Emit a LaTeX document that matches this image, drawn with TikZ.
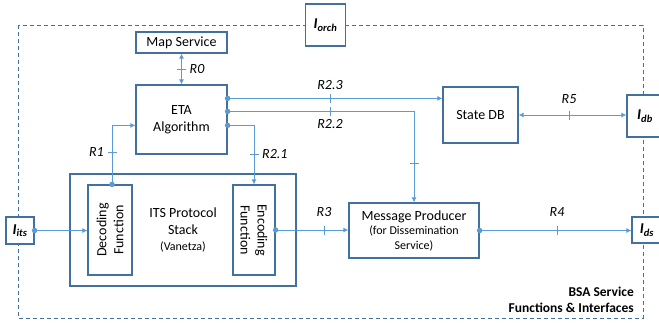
\documentclass[tikz,border=0pt]{standalone}
\usepackage{fontspec}
\setmainfont{Carlito}
\usetikzlibrary{arrows.meta,calc}
\definecolor{boxblue}{HTML}{41719C}
\definecolor{linkblue}{HTML}{5B9BD5}
\newcommand{\smalltext}{\fontsize{12}{14}\selectfont}
\begin{document}
\begin{tikzpicture}[x=1pt,y=-1pt,
  box/.style={draw=boxblue,line width=1.2pt,fill=white,inner sep=0pt,align=center,
              font=\fontsize{14}{17}\selectfont},
  iface/.style={box,font=\fontsize{15}{17}\selectfont\bfseries\itshape},
  conn/.style={draw=linkblue,line width=0.9pt},
  arr/.style={conn,-{Latex[length=5pt,width=5pt]}},
  biarr/.style={conn,{Latex[length=5pt,width=5pt]}-{Latex[length=5pt,width=5pt]}},
  dot/.style={circle,fill=linkblue,inner sep=0pt,minimum size=5.5pt},
  rlab/.style={font=\fontsize{14}{16}\selectfont\itshape,inner sep=1pt},
  vtick/.pic={\draw[conn] (0,-4.5) -- (0,4.5);},
  htick/.pic={\draw[conn] (-4.5,0) -- (4.5,0);},
]
\useasboundingbox (0,0) rectangle (659,322);

% service boundary
\draw[boxblue,line width=1pt,dash pattern=on 4pt off 3pt] (18,25) rectangle (643,318);
\node[anchor=east,align=right,inner sep=0pt,font=\fontsize{13.5}{16}\selectfont\bfseries]
  (bsa) at (634,300) {BSA Service\\Functions \& Interfaces};

% interfaces
\node[iface,minimum width=40pt,minimum height=42pt] (orch) at (325.5,25) {I\textsubscript{orch}};
\node[iface,minimum width=36pt,minimum height=42pt] (idb) at (645,116) {I\textsubscript{db}};
\node[iface,minimum width=30pt,minimum height=26pt] (ids) at (647,230) {I\textsubscript{ds}};
\node[iface,minimum width=28pt,minimum height=27pt] (iits) at (20,230.5) {I\textsubscript{its}};

% functional blocks
\node[box,minimum width=91pt,minimum height=21pt] (map) at (181.5,42.5) {Map Service};
\node[box,minimum width=91pt,minimum height=69pt] (eta) at (181.5,119.5) {ETA\\Algorithm};
\node[box,minimum width=75pt,minimum height=56pt] (sdb) at (480.5,115) {State DB};
\node[box,minimum width=226pt,minimum height=112pt] (its) at (183,230)
  {ITS Protocol\\Stack\\[-1pt]\smalltext (Vanetza)};
\node[box,minimum width=44pt,minimum height=90pt] (dec) at (110,230) {};
\node[rotate=90,align=center,font=\fontsize{14}{17}\selectfont] at (dec.center) {Decoding\\Function};
\node[box,minimum width=42pt,minimum height=90pt] (enc) at (254,230) {};
\node[rotate=-90,align=center,font=\fontsize{14}{17}\selectfont] at (enc.center) {Encoding\\Function};
\node[box,minimum width=130pt,minimum height=55pt] (mp) at (414,230.5)
  {Message Producer\\[-3pt]\smalltext (for Dissemination\\[-2pt]\smalltext Service)};

% ETA output ports
\coordinate (e1) at ([yshift=-14pt]eta.north east);
\coordinate (e2) at ([yshift=-27pt]eta.north east);
\coordinate (e3) at ([yshift=-41pt]eta.north east);
\coordinate (d1) at ([xshift=2pt]dec.north);

% R0
\draw[biarr] (map.south) -- (eta.north) coordinate[pos=0.5] (r0);
\pic at (r0) {htick};
\node[rlab,anchor=west] at ($(r0)+(7,0)$) {R0};

% R1
\draw[arr] (d1) -- (d1 |- e3) -- (e3 -| eta.west);
\coordinate (r1) at (d1 |- 0,152);
\pic at (r1) {htick};
\node[rlab,anchor=east] at ($(r1)+(-7,0)$) {R1};

% R2.1
\draw[arr] (e3) -- (e3 -| enc.north) -- (enc.north);
\coordinate (r21) at (enc.north |- 0,154);
\pic at (r21) {htick};
\node[rlab,anchor=west] at ($(r21)+(7,0)$) {R2.1};

% R2.2
\draw[arr] (e2) -- (e2 -| mp.north) -- (mp.north);
\coordinate (r22) at (e2 -| 330,0);
\pic at (r22) {vtick};
\node[rlab] at ($(r22)+(0,13)$) {R2.2};
\pic at (mp.north |- 0,163) {htick};

% R2.3
\draw[arr] (e1) -- (e1 -| sdb.west);
\coordinate (r23) at (e1 -| 330,0);
\pic at (r23) {vtick};
\node[rlab] at ($(r23)+(0,-13)$) {R2.3};

\node[dot] at (e1) {};
\node[dot] at (e2) {};
\node[dot] at (e3) {};
\node[dot] at (d1) {};

% ITS input
\draw[arr] (iits.east) -- (iits.east -| dec.west);
\node[dot] at (iits.east) {};

% R3
\draw[arr] (enc.east) -- (enc.east -| mp.west);
\coordinate (r3) at (enc.east -| 324,0);
\pic at (r3) {vtick};
\node[rlab] at ($(r3)+(0,-18)$) {R3};
\node[dot] at (enc.east) {};

% R4
\draw[arr] (mp.east) -- (mp.east -| ids.west);
\coordinate (r4) at (mp.east -| 557,0);
\pic at (r4) {vtick};
\node[rlab] at ($(r4)+(0,-18)$) {R4};
\node[dot] at (mp.east) {};

% R5
\draw[biarr] (sdb.east) -- (sdb.east -| idb.west);
\coordinate (r5) at (sdb.east -| 569,0);
\pic at (r5) {vtick};
\node[rlab] at ($(r5)+(0,-16)$) {R5};
\end{tikzpicture}
\end{document}
